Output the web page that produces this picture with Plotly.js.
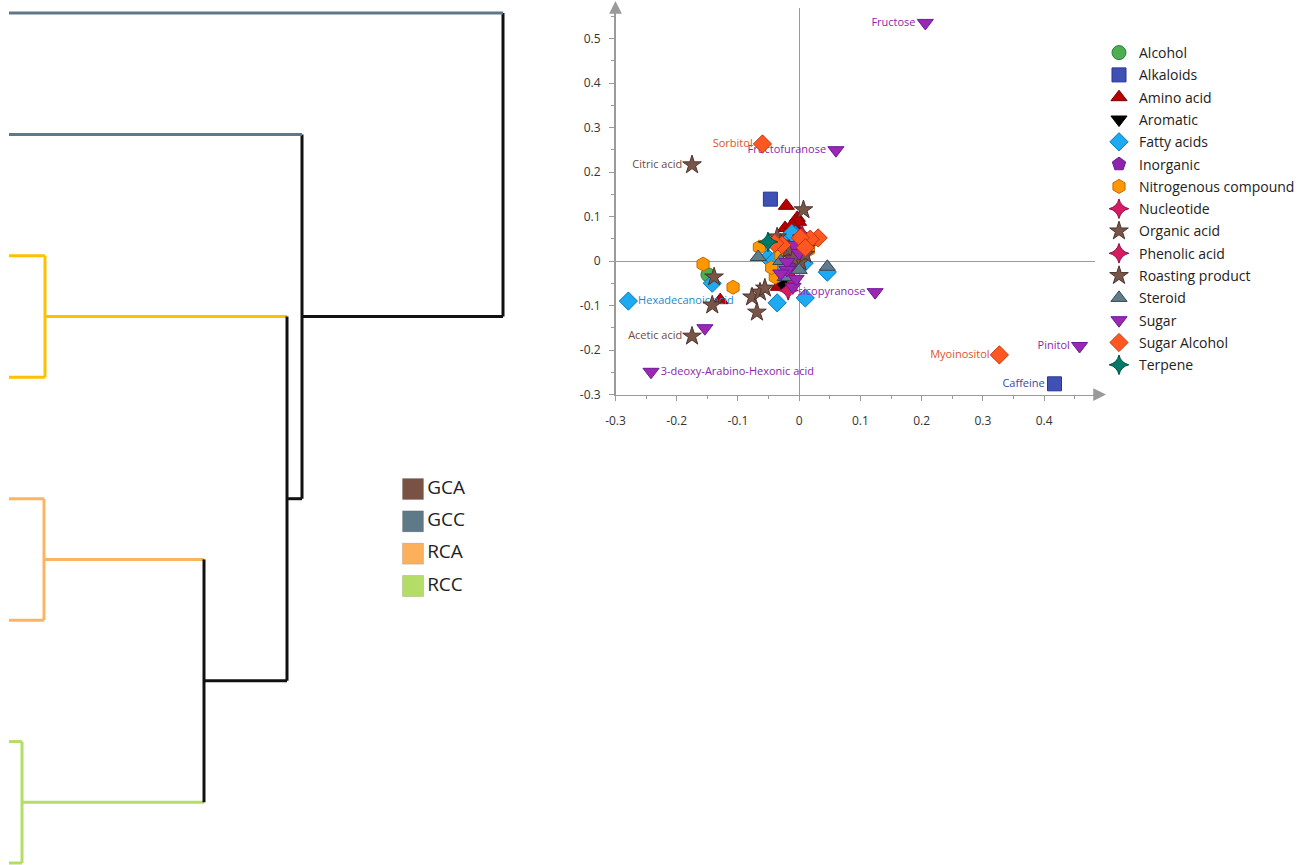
<!DOCTYPE html>
<html>
<head>
<meta charset="utf-8">
<script src="https://cdn.plot.ly/plotly-3.0.1.min.js"></script>
<style>html,body{margin:0;padding:0;background:#fff;}#chart{width:1305px;height:865px;}</style>
</head>
<body>
<div id="chart"></div>
<script>
// ---------------- DATA ----------------
// Scatter categories
const categories = ['Alcohol','Alkaloids','Amino acid','Aromatic','Fatty acids','Inorganic','Nitrogenous compound','Nucleotide','Organic acid','Phenolic acid','Roasting product','Steroid','Sugar','Sugar Alcohol','Terpene'];

const xAlcohol = [-0.149, -0.020];
const yAlcohol = [-0.031, 0.045];
const nAlcohol = ['', ''];

const xAlkaloids = [-0.047, 0.417];
const yAlkaloids = [0.139, -0.276];
const nAlkaloids = ['', 'Caffeine'];

const xAmino = [-0.021, -0.003, -0.001, -0.023, -0.129, -0.034, -0.010, 0.000, -0.012];
const yAmino = [0.124, 0.097, 0.088, 0.074, -0.088, -0.058, 0.040, 0.065, 0.080];
const nAmino = ['', '', '', '', '', '', '', '', ''];

const xAromatic = [-0.023, -0.018, -0.028];
const yAromatic = [-0.058, -0.064, -0.050];
const nAromatic = ['', '', ''];

const xFatty = [-0.279, -0.142, -0.036, 0.010, 0.046, -0.051, -0.006, -0.016, -0.040, 0.002, -0.025, 0.008, -0.030, -0.012];
const yFatty = [-0.090, -0.050, -0.094, -0.083, -0.025, 0.007, 0.058, 0.048, 0.002, 0.020, 0.015, -0.005, -0.010, 0.062];
const nFatty = ['Hexadecanoic acid', '', '', '', '', '', '', '', '', '', '', '', '', ''];

const xInorganic = [-0.010, 0.005, -0.005];
const yInorganic = [0.010, 0.030, -0.010];
const nInorganic = ['', '', ''];

const xNitro = [-0.157, -0.108, -0.065, -0.039, -0.004, 0.012, 0.015, -0.045, -0.030, 0.020];
const yNitro = [-0.007, -0.059, 0.031, -0.036, 0.009, 0.030, 0.025, -0.015, 0.012, 0.045];
const nNitro = ['', '', '', '', '', '', '', '', '', ''];

const xNucleotide = [-0.018, 0.005];
const yNucleotide = [-0.066, 0.058];
const nNucleotide = ['', ''];

const xOrganic = [-0.175, -0.175, -0.139, -0.142, 0.007, -0.036];
const yOrganic = [0.216, -0.169, -0.036, -0.099, 0.115, 0.054];
const nOrganic = ['Citric acid', 'Acetic acid', '', '', '', ''];

const xPhenolic = [0.010, -0.012];
const yPhenolic = [0.035, -0.040];
const nPhenolic = ['', ''];

const xRoasting = [-0.077, -0.064, -0.056, -0.069, 0.002, -0.018, -0.010, 0.010, -0.030];
const yRoasting = [-0.081, -0.070, -0.061, -0.115, -0.002, 0.025, 0.005, 0.015, 0.040];
const nRoasting = ['', '', '', '', '', '', '', '', ''];

const xSteroid = [-0.067, 0.046, -0.023, -0.030, 0.000];
const ySteroid = [0.009, -0.013, -0.036, 0.000, -0.020];
const nSteroid = ['', '', '', '', ''];

const xSugar = [0.206, 0.060, 0.124, 0.458, -0.242, -0.154, -0.008, -0.020, -0.020, -0.010, -0.030, 0.000, -0.005];
const ySugar = [0.535, 0.249, -0.070, -0.191, -0.249, -0.151, 0.036, -0.002, -0.020, -0.058, -0.028, 0.018, -0.040];
const nSugar = ['Fructose', 'Fructofuranose', 'Psicopyranose', 'Pinitol', '3-deoxy-Arabino-Hexonic acid', '', '', '', '', '', '', '', ''];

const xSugarAlc = [-0.060, 0.327, 0.031, 0.018, 0.002, -0.028, 0.010, -0.040];
const ySugarAlc = [0.263, -0.211, 0.052, 0.049, 0.052, 0.036, 0.030, 0.040];
const nSugarAlc = ['Sorbitol', 'Myoinositol', '', '', '', '', '', ''];

const xTerpene = [-0.051];
const yTerpene = [0.043];
const nTerpene = [''];

// Axis ticks
const xTickVals = [-0.3, -0.2, -0.1, 0, 0.1, 0.2, 0.3, 0.4];
const yTickVals = [-0.3, -0.2, -0.1, 0, 0.1, 0.2, 0.3, 0.4, 0.5];

// Dendrogram (8 leaves, top to bottom) and its merges
const leafCluster = ['GCC', 'GCC', 'GCA', 'GCA', 'RCA', 'RCA', 'RCC', 'RCC'];
const mergeLeft   = [2, 4, 6, 9, 8, 1, 0];
const mergeRight  = [3, 5, 7, 10, 11, 12, 13];
const mergeHeight = [36, 35, 13, 195, 278, 293, 494];

// Group legend
const groupNames = ['GCA', 'GCC', 'RCA', 'RCC'];

// ---------------- STYLES ----------------
const catData = {
  'Alcohol': [xAlcohol, yAlcohol, nAlcohol],
  'Alkaloids': [xAlkaloids, yAlkaloids, nAlkaloids],
  'Amino acid': [xAmino, yAmino, nAmino],
  'Aromatic': [xAromatic, yAromatic, nAromatic],
  'Fatty acids': [xFatty, yFatty, nFatty],
  'Inorganic': [xInorganic, yInorganic, nInorganic],
  'Nitrogenous compound': [xNitro, yNitro, nNitro],
  'Nucleotide': [xNucleotide, yNucleotide, nNucleotide],
  'Organic acid': [xOrganic, yOrganic, nOrganic],
  'Phenolic acid': [xPhenolic, yPhenolic, nPhenolic],
  'Roasting product': [xRoasting, yRoasting, nRoasting],
  'Steroid': [xSteroid, ySteroid, nSteroid],
  'Sugar': [xSugar, ySugar, nSugar],
  'Sugar Alcohol': [xSugarAlc, ySugarAlc, nSugarAlc],
  'Terpene': [xTerpene, yTerpene, nTerpene]
};
const catStyle = {
  'Alcohol': {symbol: 'circle', color: '#4CAF50', line: '#2E7D32', text: '#2E7D32'},
  'Alkaloids': {symbol: 'square', color: '#3F51B5', line: '#283593', text: '#3949AB'},
  'Amino acid': {symbol: 'triangle-up', color: '#B80000', line: '#7A0000', text: '#B80000'},
  'Aromatic': {symbol: 'triangle-down', color: '#000000', line: '#000000', text: '#000000'},
  'Fatty acids': {symbol: 'diamond', color: '#1EAAF1', line: '#0277BD', text: '#1E88C8'},
  'Inorganic': {symbol: 'pentagon', color: '#8E24AA', line: '#6A1B9A', text: '#8E24AA'},
  'Nitrogenous compound': {symbol: 'hexagon', color: '#FF9800', line: '#C66900', text: '#E68A00'},
  'Nucleotide': {symbol: 'star-diamond', color: '#D81B60', line: '#880E4F', text: '#D81B60'},
  'Organic acid': {symbol: 'star', color: '#795548', line: '#4E342E', text: '#6D4C41'},
  'Phenolic acid': {symbol: 'star-diamond', color: '#D81B60', line: '#880E4F', text: '#D81B60'},
  'Roasting product': {symbol: 'star', color: '#795548', line: '#4E342E', text: '#6D4C41'},
  'Steroid': {symbol: 'triangle-up', color: '#607D8B', line: '#37474F', text: '#546E7A'},
  'Sugar': {symbol: 'triangle-down', color: '#9C27B0', line: '#6A1B9A', text: '#8E24AA'},
  'Sugar Alcohol': {symbol: 'diamond', color: '#FF5722', line: '#BF360C', text: '#E0532A'},
  'Terpene': {symbol: 'star-diamond', color: '#00796B', line: '#004D40', text: '#00796B'}
};
const labelRight = ['Hexadecanoic acid', '3-deoxy-Arabino-Hexonic acid'];
const clusterColor = {GCC: '#5E7887', GCA: '#FFC000', RCA: '#FDB462', RCC: '#B3DD66', none: '#111111'};
const groupColor = {GCA: '#7A5244', GCC: '#5E7A88', RCA: '#FDB05C', RCC: '#B3DD66'};
const FONT = '"Open Sans", "Noto Sans", sans-serif';
const W = 1305, H = 865;

// ---------------- TRACES ----------------
const traces = [];

// Dendrogram from linkage
const nodePos = leafCluster.map((c, i) => i);
const nodeH = leafCluster.map(() => 0);
const nodeCl = leafCluster.slice();
const segs = {};
function addSeg(cl, xs, ys) {
  if (!segs[cl]) segs[cl] = {x: [], y: []};
  segs[cl].x.push(...xs, null);
  segs[cl].y.push(...ys, null);
}
mergeLeft.forEach((a, k) => {
  const b = mergeRight[k], h = mergeHeight[k];
  const cl = nodeCl[a] === nodeCl[b] ? nodeCl[a] : 'none';
  addSeg(nodeCl[a], [nodeH[a], h], [nodePos[a], nodePos[a]]);
  addSeg(nodeCl[b], [nodeH[b], h], [nodePos[b], nodePos[b]]);
  addSeg(cl, [h, h], [nodePos[a], nodePos[b]]);
  nodePos.push((nodePos[a] + nodePos[b]) / 2);
  nodeH.push(h);
  nodeCl.push(cl);
});
Object.keys(segs).forEach(cl => {
  traces.push({
    type: 'scatter', mode: 'lines', x: segs[cl].x, y: segs[cl].y,
    xaxis: 'x2', yaxis: 'y2', showlegend: false, hoverinfo: 'skip',
    line: {color: clusterColor[cl], width: 3}
  });
});

// Group legend (squares + labels)
traces.push({
  type: 'scatter', mode: 'markers+text',
  x: groupNames.map(() => 0), y: groupNames.map((g, i) => i),
  text: groupNames, textposition: 'middle right',
  textfont: {family: FONT, size: 19, color: '#222'},
  marker: {symbol: 'square', size: 21, color: groupNames.map(g => groupColor[g]), line: {color: 'rgba(0,0,0,0.12)', width: 1}},
  xaxis: 'x3', yaxis: 'y3', showlegend: false, hoverinfo: 'skip', cliponaxis: false
});

// Scatter categories
categories.forEach(cat => {
  const [xs, ys, ns] = catData[cat];
  const st = catStyle[cat];
  traces.push({
    type: 'scatter', mode: 'markers+text', name: cat, legendgroup: cat,
    x: xs, y: ys, text: ns,
    textposition: ns.map(n => labelRight.includes(n) ? 'middle right' : 'middle left'),
    textfont: {family: FONT, size: 11, color: st.text},
    marker: {symbol: st.symbol, size: 14, color: st.color, line: {color: st.line, width: 1}},
    xaxis: 'x', yaxis: 'y', cliponaxis: false
  });
});

// ---------------- LAYOUT ----------------
const px = v => v / W, py = v => 1 - v / H;
const axisCommon = {
  showline: true, linecolor: '#9a9a9a', linewidth: 1.5,
  ticks: 'outside', ticklen: 5, tickcolor: '#9a9a9a', tickwidth: 1,
  showgrid: false, zeroline: true, zerolinecolor: '#9a9a9a', zerolinewidth: 1,
  tickfont: {family: FONT, size: 12, color: '#333'},
  tickmode: 'array',
  minor: {tickmode: 'linear', tick0: 0, dtick: 0.05, ticks: 'outside', ticklen: 3, tickcolor: '#9a9a9a', showgrid: false},
  fixedrange: true
};
const layout = {
  width: W, height: H,
  margin: {l: 0, r: 0, t: 0, b: 0},
  paper_bgcolor: '#ffffff', plot_bgcolor: 'rgba(0,0,0,0)',
  font: {family: FONT, color: '#222'},
  showlegend: true,
  legend: {
    x: px(1099), y: py(37), xanchor: 'left', yanchor: 'top',
    bgcolor: 'rgba(0,0,0,0)', borderwidth: 0,
    font: {family: FONT, size: 14, color: '#222'},
    tracegroupgap: 1.1
  },
  xaxis: Object.assign({}, axisCommon, {
    domain: [px(615.5), px(1095)], range: [-0.3, (1095 - 799.3) / 612],
    anchor: 'y', ticklabelstandoff: 10,
    tickvals: xTickVals, ticktext: xTickVals.map(v => String(v))
  }),
  yaxis: Object.assign({}, axisCommon, {
    domain: [py(394.5), py(8)], range: [-0.3, (261 - 8) / 445],
    anchor: 'x', ticklabelstandoff: 6,
    tickvals: yTickVals, ticktext: yTickVals.map(v => String(v))
  }),
  xaxis2: {domain: [0, px(520)], range: [-9, 511], visible: false, anchor: 'y2', fixedrange: true},
  yaxis2: {domain: [0, 1], range: [7 + 2 / 121.43, -13 / 121.43], visible: false, anchor: 'x2', fixedrange: true},
  xaxis3: {domain: [px(403), px(503)], range: [-1, 9], visible: false, anchor: 'y3', fixedrange: true},
  yaxis3: {domain: [py(602), py(472)], range: [3.495, -0.526], visible: false, anchor: 'x3', fixedrange: true},
  annotations: [
    {xref: 'paper', yref: 'paper', x: px(615.5), y: py(0), ax: 0, ay: 14, text: '', showarrow: true,
     arrowhead: 2, arrowsize: 1.7, arrowwidth: 1.5, arrowcolor: '#9a9a9a'},
    {xref: 'paper', yref: 'paper', x: px(1106), y: py(394.5), ax: -14, ay: 0, text: '', showarrow: true,
     arrowhead: 2, arrowsize: 1.7, arrowwidth: 1.5, arrowcolor: '#9a9a9a'}
  ]
};

Plotly.newPlot('chart', traces, layout, {displayModeBar: false, staticPlot: true});
</script>
</body>
</html>
